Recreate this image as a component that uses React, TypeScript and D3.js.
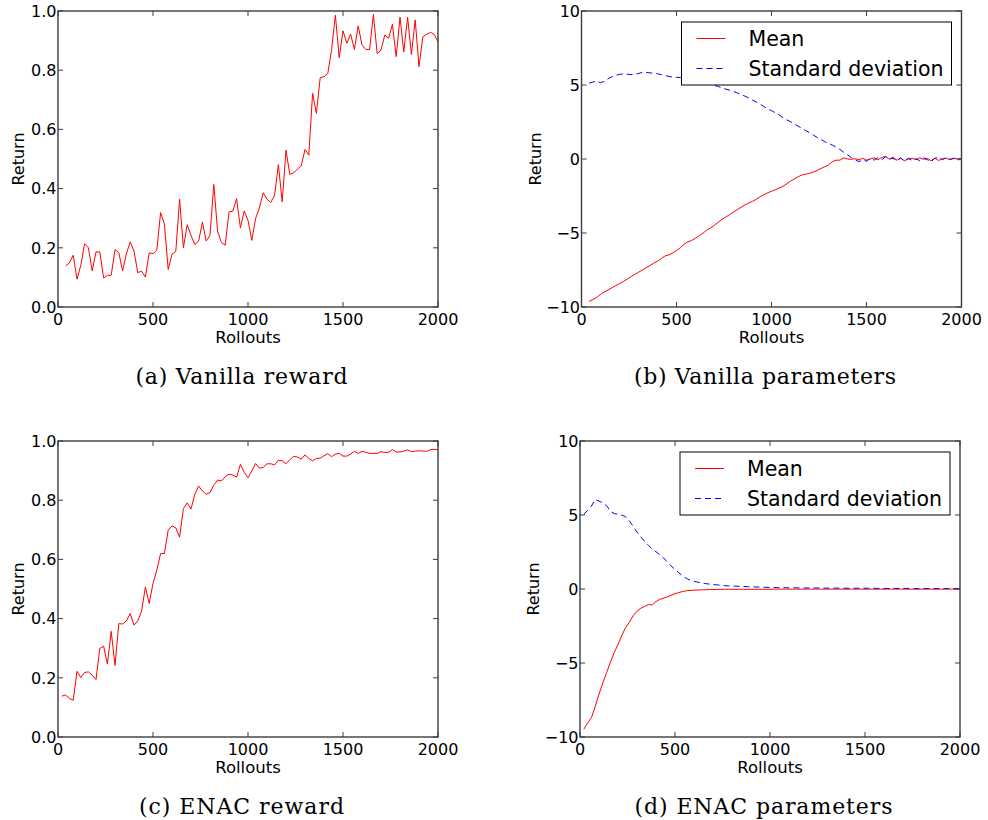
import React from 'react';
import * as d3 from 'd3';

// ---------- data ----------
const xTicks = [0, 500, 1000, 1500, 2000];
const rewardTicks = [0, 0.2, 0.4, 0.6, 0.8, 1.0];
const paramTicks = [-10, -5, 0, 5, 10];
const legendLabels = ['Mean', 'Standard deviation'];
const captions = ['(a) Vanilla reward', '(b) Vanilla parameters', '(c) ENAC reward', '(d) ENAC parameters'];

const vanillaRollouts = d3.range(40, 2001, 20);
const enacRollouts = d3.range(20, 2001, 20);

const vanillaReward = [
  0.139, 0.149, 0.175, 0.094, 0.141, 0.214, 0.200, 0.122, 0.186, 0.186,
  0.098, 0.107, 0.107, 0.194, 0.184, 0.122, 0.180, 0.220, 0.189, 0.116,
  0.121, 0.101, 0.183, 0.180, 0.192, 0.319, 0.280, 0.127, 0.178, 0.188,
  0.364, 0.200, 0.278, 0.242, 0.211, 0.222, 0.287, 0.223, 0.242, 0.414,
  0.256, 0.218, 0.209, 0.321, 0.324, 0.366, 0.267, 0.325, 0.293, 0.225,
  0.299, 0.335, 0.386, 0.364, 0.353, 0.378, 0.481, 0.355, 0.530, 0.448,
  0.453, 0.466, 0.477, 0.532, 0.513, 0.722, 0.654, 0.775, 0.778, 0.789,
  0.870, 0.986, 0.842, 0.933, 0.891, 0.922, 0.870, 0.950, 0.885, 0.870,
  0.870, 0.989, 0.855, 0.868, 0.919, 0.908, 0.955, 0.846, 0.979, 0.862,
  0.979, 0.853, 0.970, 0.812, 0.913, 0.921, 0.928, 0.921, 0.896,
];

const vanillaMean = [
  -9.62, -9.50, -9.35, -9.15, -8.98, -8.85, -8.70, -8.55, -8.42, -8.28,
  -8.12, -7.95, -7.80, -7.65, -7.50, -7.35, -7.20, -7.04, -6.90, -6.72,
  -6.55, -6.48, -6.35, -6.18, -6.00, -5.75, -5.60, -5.50, -5.35, -5.18,
  -5.00, -4.80, -4.65, -4.47, -4.27, -4.08, -3.92, -3.75, -3.58, -3.42,
  -3.26, -3.10, -2.98, -2.86, -2.72, -2.56, -2.42, -2.28, -2.18, -2.08,
  -1.96, -1.85, -1.68, -1.50, -1.35, -1.20, -1.08, -1.02, -0.97, -0.88,
  -0.78, -0.64, -0.52, -0.40, -0.18, -0.08, -0.08, 0.08, 0.00, -0.02,
  0.02, -0.05, 0.05, -0.08, 0.00, 0.08, -0.05, 0.10, 0.18, -0.02,
  0.12, -0.08, 0.05, -0.12, 0.00, 0.05, -0.05, 0.08, -0.02, 0.05,
  -0.12, 0.05, -0.10, 0.02, 0.05, -0.05, 0.05, 0.00, 0.02,
];

const vanillaStd = [
  5.12, 5.20, 5.26, 5.15, 5.25, 5.42, 5.55, 5.65, 5.72, 5.75,
  5.73, 5.70, 5.72, 5.78, 5.85, 5.85, 5.82, 5.80, 5.76, 5.70,
  5.64, 5.58, 5.54, 5.52, 5.50, 5.48, 5.45, 5.40, 5.32, 5.26,
  5.20, 5.12, 5.05, 4.97, 4.90, 4.80, 4.72, 4.65, 4.56, 4.46,
  4.35, 4.25, 4.12, 3.98, 3.85, 3.70, 3.55, 3.38, 3.27, 3.12,
  2.98, 2.80, 2.65, 2.52, 2.38, 2.22, 2.08, 1.92, 1.78, 1.62,
  1.46, 1.32, 1.18, 1.05, 0.94, 0.80, 0.65, 0.45, 0.28, 0.10,
  -0.05, -0.18, -0.05, -0.15, 0.05, -0.08, 0.10, -0.05, 0.15, 0.00,
  0.05, -0.12, 0.08, -0.15, 0.05, -0.10, 0.02, -0.12, 0.08, -0.05,
  -0.18, 0.05, 0.12, -0.05, 0.10, -0.02, 0.05, -0.10, 0.05,
];

const enacReward = [
  0.138, 0.142, 0.130, 0.124, 0.222, 0.201, 0.218, 0.220, 0.209, 0.194,
  0.299, 0.307, 0.246, 0.357, 0.242, 0.383, 0.382, 0.392, 0.417, 0.378,
  0.392, 0.426, 0.507, 0.451, 0.519, 0.564, 0.620, 0.620, 0.699, 0.713,
  0.707, 0.675, 0.772, 0.791, 0.770, 0.820, 0.848, 0.831, 0.820, 0.826,
  0.851, 0.868, 0.865, 0.879, 0.888, 0.885, 0.878, 0.921, 0.894, 0.876,
  0.899, 0.924, 0.908, 0.911, 0.923, 0.923, 0.919, 0.935, 0.933, 0.923,
  0.937, 0.948, 0.946, 0.939, 0.953, 0.941, 0.933, 0.941, 0.942, 0.950,
  0.957, 0.947, 0.956, 0.958, 0.949, 0.949, 0.956, 0.965, 0.958, 0.965,
  0.962, 0.958, 0.958, 0.958, 0.964, 0.961, 0.962, 0.971, 0.963, 0.963,
  0.966, 0.970, 0.964, 0.966, 0.967, 0.966, 0.965, 0.971, 0.972, 0.970,
];

const enacMean = [
  -9.48, -9.05, -8.70, -7.95, -7.10, -6.35, -5.65, -4.95, -4.30, -3.75,
  -3.15, -2.60, -2.25, -1.80, -1.50, -1.30, -1.18, -1.05, -1.08, -0.85,
  -0.70, -0.62, -0.53, -0.42, -0.32, -0.24, -0.17, -0.12, -0.10, -0.08,
  -0.07, -0.06, -0.05, -0.04, -0.04, -0.03, -0.03, -0.02, -0.02, -0.02,
  -0.02, -0.02, -0.02, -0.02, -0.02, -0.02, -0.02, -0.02, -0.02, -0.02,
  -0.01, -0.01, -0.01, -0.01, -0.01, -0.01, -0.01, -0.01, -0.01, -0.01,
  -0.01, -0.01, -0.01, -0.01, -0.01, -0.01, -0.01, -0.01, -0.01, -0.01,
  -0.01, -0.01, -0.01, -0.01, -0.01, -0.01, -0.01, -0.01, -0.01, -0.01,
  -0.01, -0.01, -0.01, -0.01, -0.01, -0.01, -0.01, -0.01, -0.01, -0.01,
  -0.01, -0.01, -0.01, -0.01, -0.01, -0.01, -0.01, -0.01, -0.01, -0.01,
];

const enacStd = [
  5.06, 5.30, 5.60, 6.05, 5.95, 5.80, 5.63, 5.25, 5.10, 5.05,
  5.00, 4.88, 4.60, 4.22, 3.85, 3.52, 3.22, 2.95, 2.70, 2.52,
  2.32, 2.10, 1.82, 1.55, 1.33, 1.10, 0.88, 0.72, 0.60, 0.52,
  0.46, 0.41, 0.37, 0.33, 0.30, 0.28, 0.25, 0.23, 0.21, 0.20,
  0.19, 0.18, 0.17, 0.16, 0.15, 0.14, 0.13, 0.12, 0.11, 0.10,
  0.10, 0.09, 0.09, 0.09, 0.08, 0.08, 0.08, 0.08, 0.07, 0.07,
  0.07, 0.07, 0.07, 0.06, 0.06, 0.06, 0.06, 0.06, 0.06, 0.05,
  0.05, 0.05, 0.05, 0.05, 0.05, 0.05, 0.05, 0.04, 0.04, 0.04,
  0.04, 0.04, 0.04, 0.04, 0.04, 0.04, 0.04, 0.03, 0.03, 0.03,
  0.03, 0.03, 0.03, 0.03, 0.03, 0.03, 0.03, 0.03, 0.03, 0.03,
];

// ---------- styles ----------
const SANS = 'DejaVu Sans, sans-serif';
const SERIF = 'DejaVu Serif, serif';
const FRAME = '#3c3c3c';
const RED = '#ff0000';
const BLUE = '#0000ff';
const W = 380;
const H = 296;

type Series = { xs: number[]; ys: number[]; color: string; dash?: string };

type PanelProps = {
  left: number;
  top: number;
  yDomain: [number, number];
  yTicks: number[];
  yFmt: (v: number) => string;
  series: Series[];
  legend: boolean;
  caption: string;
  captionLen: number;
  labelX: number;
};

function Panel({ left, top, yDomain, yTicks, yFmt, series, legend, caption, captionLen, labelX }: PanelProps) {
  const x = d3.scaleLinear().domain([0, 2000]).range([left, left + W]);
  const y = d3.scaleLinear().domain(yDomain).range([top + H, top]);
  const bottom = top + H;
  const right = left + W;
  const tl = 5;
  const lineGen = (s: Series) =>
    d3
      .line<number>()
      .x((_, i) => x(s.xs[i]))
      .y((v) => y(v))(s.ys) || '';

  const lgW = 270;
  const lgH = 63;
  const lgX = right - 10 - lgW;
  const lgY = top + 11;

  return (
    <g>
      {series.map((s, i) => (
        <path key={i} d={lineGen(s)} fill="none" stroke={s.color} strokeWidth={1} strokeDasharray={s.dash} />
      ))}
      {xTicks.map((t) => (
        <g key={'xt' + t}>
          <line x1={x(t)} x2={x(t)} y1={bottom} y2={bottom - tl} stroke={FRAME} />
          <line x1={x(t)} x2={x(t)} y1={top} y2={top + tl} stroke={FRAME} />
          <text x={x(t)} y={bottom + 18} textAnchor="middle" fontFamily={SANS} fontSize={16} fill="#000">
            {t}
          </text>
        </g>
      ))}
      {yTicks.map((t) => (
        <g key={'yt' + t}>
          <line x1={left} x2={left + tl} y1={y(t)} y2={y(t)} stroke={FRAME} />
          <line x1={right} x2={right - tl} y1={y(t)} y2={y(t)} stroke={FRAME} />
          <text x={left - 1.5} y={y(t)} dy="0.36em" textAnchor="end" fontFamily={SANS} fontSize={16} fill="#000">
            {yFmt(t)}
          </text>
        </g>
      ))}
      <rect x={left} y={top} width={W} height={H} fill="none" stroke={FRAME} strokeWidth={1.4} />
      <text x={left + W / 2} y={bottom + 35.5} textAnchor="middle" fontFamily={SANS} fontSize={16.5} fill="#000">
        Rollouts
      </text>
      <text
        transform={`translate(${labelX},${top + H / 2}) rotate(-90)`}
        textAnchor="middle"
        dy="0.36em"
        fontFamily={SANS}
        fontSize={16}
        fill="#000"
      >
        Return
      </text>
      {legend && (
        <g>
          <rect x={lgX} y={lgY} width={lgW} height={lgH} fill="#fff" stroke="#000" strokeWidth={1} />
          {legendLabels.map((lab, i) => (
            <g key={lab}>
              <line
                x1={lgX + 15}
                x2={lgX + 44}
                y1={lgY + 16.5 + i * 30}
                y2={lgY + 16.5 + i * 30}
                stroke={series[i].color}
                strokeWidth={1}
                strokeDasharray={series[i].dash}
              />
              <text x={lgX + 67} y={lgY + 16.5 + i * 30} dy="0.36em" fontFamily={SANS} fontSize={20.5} fill="#000">
                {lab}
              </text>
            </g>
          ))}
        </g>
      )}
      <text
        x={left + W / 2 - 6.5}
        y={bottom + 77}
        textAnchor="middle"
        fontFamily={SERIF}
        fontSize={22}
        textLength={captionLen}
        lengthAdjust="spacing"
        fill="#000"
      >
        {caption}
      </text>
    </g>
  );
}

const fmtReward = d3.format('.1f');
const fmtParam = (v: number) => (v < 0 ? '\u2212' + Math.abs(v) : String(v));

export default function App() {
  return (
    <svg width={988} height={820} style={{ position: 'absolute', left: 0, top: 0, background: '#fff' }}>
      <rect width={988} height={820} fill="#fff" />
      <Panel
        left={58}
        top={11}
        yDomain={[0, 1]}
        yTicks={rewardTicks}
        yFmt={fmtReward}
        series={[{ xs: vanillaRollouts, ys: vanillaReward, color: RED }]}
        legend={false}
        caption={captions[0]}
        captionLen={212}
        labelX={18}
      />
      <Panel
        left={581.5}
        top={11}
        yDomain={[-10, 10]}
        yTicks={paramTicks}
        yFmt={fmtParam}
        series={[
          { xs: vanillaRollouts, ys: vanillaMean, color: RED },
          { xs: vanillaRollouts, ys: vanillaStd, color: BLUE, dash: '6,4' },
        ]}
        legend={true}
        caption={captions[1]}
        captionLen={262}
        labelX={535}
      />
      <Panel
        left={58}
        top={441}
        yDomain={[0, 1]}
        yTicks={rewardTicks}
        yFmt={fmtReward}
        series={[{ xs: enacRollouts, ys: enacReward, color: RED }]}
        legend={false}
        caption={captions[2]}
        captionLen={205}
        labelX={18}
      />
      <Panel
        left={580}
        top={441}
        yDomain={[-10, 10]}
        yTicks={paramTicks}
        yFmt={fmtParam}
        series={[
          { xs: enacRollouts, ys: enacMean, color: RED },
          { xs: enacRollouts, ys: enacStd, color: BLUE, dash: '6,4' },
        ]}
        legend={true}
        caption={captions[3]}
        captionLen={258}
        labelX={533}
      />
    </svg>
  );
}
